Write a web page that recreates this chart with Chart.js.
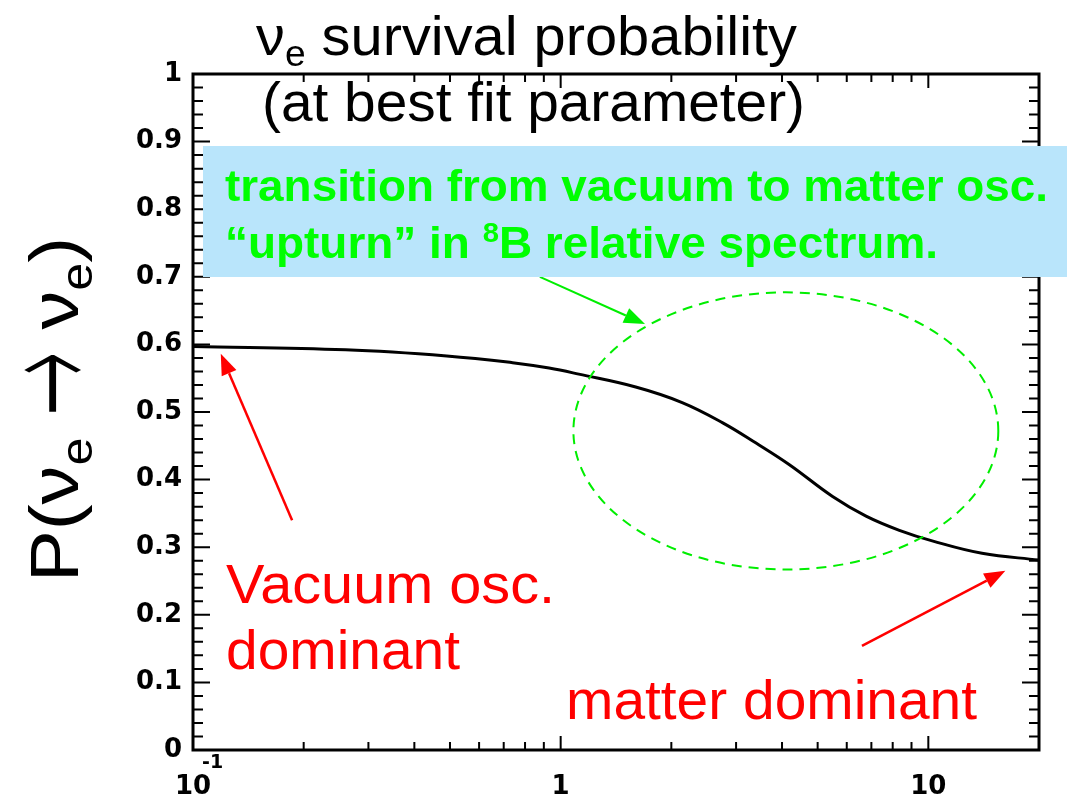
<!DOCTYPE html>
<html lang="en">
<head>
<meta charset="UTF-8">
<title>nu_e survival probability</title>
<style>
  body { margin: 0; background: #ffffff; }
  #wrap { width: 1067px; height: 794px; }
</style>
<script src="https://cdn.jsdelivr.net/npm/chart.js"></script>
</head>
<body>
<div id="wrap"><canvas id="probChart" width="1067" height="794"></canvas></div>
<script>
// neutrino energy (MeV) and survival probability along the best fit curve
const energy   = [0.1, 0.26, 0.49, 0.74, 0.93, 1.12, 1.6, 2.14, 2.76, 3.4, 4.19, 5.49, 6.77, 8.34, 10.3, 14, 20];
const survival = [0.597, 0.592, 0.583, 0.573, 0.565, 0.556, 0.537, 0.514, 0.484, 0.454, 0.422, 0.375, 0.346, 0.325, 0.309, 0.291, 0.281];

// axis ticks
const xLabelTicks = [0.1, 1, 10];
const xMinorTicks = [0.2, 0.3, 0.4, 0.5, 0.6, 0.7, 0.8, 0.9, 2, 3, 4, 5, 6, 7, 8, 9];
const yLabelTicks = [0, 0.1, 0.2, 0.3, 0.4, 0.5, 0.6, 0.7, 0.8, 0.9, 1];

const SANS = '"Liberation Sans", Arial, sans-serif';

// draw a row of text pieces, squeezed/stretched to a given width.
// a piece may carry its own width (w0) and vertical stretch (sy about cy)
function drawRuns(ctx, runs, x, y, width) {
  let total = 0;
  runs.forEach(r => {
    ctx.font = r.font;
    const m = ctx.measureText(r.text).width;
    r.sx = r.w0 ? r.w0 / m : 1;
    r.w = r.w0 || m;
    total += r.w;
  });
  ctx.save();
  ctx.translate(x, y);
  ctx.scale(width ? width / total : 1, 1);
  let cx = 0;
  runs.forEach(r => {
    ctx.font = r.font;
    if (r.sy) {
      ctx.save();
      ctx.translate(cx, r.cy);
      ctx.scale(r.sx, r.sy);
      ctx.fillText(r.text, 0, -r.gy);
      ctx.restore();
    } else {
      ctx.fillText(r.text, cx, r.dy || 0);
    }
    cx += r.w;
  });
  ctx.restore();
}

function drawArrow(ctx, x1, y1, x2, y2, color, lw) {
  const ang = Math.atan2(y2 - y1, x2 - x1);
  const head = 21, half = 8;
  const bx = x2 - head * Math.cos(ang), by = y2 - head * Math.sin(ang);
  ctx.strokeStyle = color;
  ctx.fillStyle = color;
  ctx.lineWidth = lw;
  ctx.beginPath();
  ctx.moveTo(x1, y1);
  ctx.lineTo(bx, by);
  ctx.stroke();
  ctx.beginPath();
  ctx.moveTo(x2, y2);
  ctx.lineTo(bx + half * Math.sin(ang), by - half * Math.cos(ang));
  ctx.lineTo(bx - half * Math.sin(ang), by + half * Math.cos(ang));
  ctx.closePath();
  ctx.fill();
}

const decor = {
  id: 'decor',
  afterDraw(chart) {
    const { ctx, chartArea: a, scales: { x, y } } = chart;
    ctx.save();

    // frame with inward ticks on all four sides
    ctx.strokeStyle = '#000';
    ctx.lineWidth = 2;
    ctx.beginPath();
    for (let i = 1; i < 50; i++) {
      const py = y.getPixelForValue(i / 50);
      const len = i % 5 === 0 ? 17 : 10;
      ctx.moveTo(a.left, py); ctx.lineTo(a.left + len, py);
      ctx.moveTo(a.right, py); ctx.lineTo(a.right - len, py);
    }
    xLabelTicks.concat(xMinorTicks).forEach(v => {
      const px = x.getPixelForValue(v);
      const len = xLabelTicks.includes(v) ? 14 : 8;
      ctx.moveTo(px, a.bottom); ctx.lineTo(px, a.bottom - len);
      ctx.moveTo(px, a.top); ctx.lineTo(px, a.top + len);
    });
    ctx.stroke();
    ctx.lineWidth = 3;
    ctx.strokeRect(a.left, a.top, a.right - a.left, a.bottom - a.top);

    // exponent of the 10^-1 label
    ctx.fillStyle = '#000';
    ctx.font = 'bold 19px "DejaVu Sans"';
    ctx.textBaseline = 'alphabetic';
    ctx.fillText('-1', x.getPixelForValue(0.1) + 9, 768);

    // dashed ellipse round the transition region
    const ex1 = x.getPixelForValue(1.083), ex2 = x.getPixelForValue(15.5);
    const ey1 = y.getPixelForValue(0.677), ey2 = y.getPixelForValue(0.267);
    ctx.strokeStyle = '#00ee00';
    ctx.lineWidth = 2;
    ctx.setLineDash([10, 7]);
    ctx.beginPath();
    ctx.ellipse((ex1 + ex2) / 2, (ey1 + ey2) / 2, (ex2 - ex1) / 2, (ey2 - ey1) / 2, 0, 0, Math.PI * 2);
    ctx.stroke();
    ctx.setLineDash([]);

    // arrows
    drawArrow(ctx, x.getPixelForValue(0.878), y.getPixelForValue(0.70),
              x.getPixelForValue(1.696), y.getPixelForValue(0.630), '#00ee00', 2);
    drawArrow(ctx, x.getPixelForValue(0.186), y.getPixelForValue(0.340),
              x.getPixelForValue(0.119), y.getPixelForValue(0.586), '#ff0000', 2.5);
    drawArrow(ctx, x.getPixelForValue(6.6), y.getPixelForValue(0.154),
              x.getPixelForValue(16.2), y.getPixelForValue(0.265), '#ff0000', 2.5);

    // annotation box
    ctx.fillStyle = '#b9e5fb';
    ctx.fillRect(203, 146, 864, 131);
    ctx.fillStyle = '#00ff00';
    drawRuns(ctx, [{ text: 'transition from vacuum to matter osc.', font: 'bold 44px ' + SANS }], 225, 201, 823);
    drawRuns(ctx, [
      { text: '\u201cupturn\u201d in ', font: 'bold 44px ' + SANS },
      { text: '8', font: 'bold 28px ' + SANS, dy: -16 },
      { text: 'B relative spectrum.', font: 'bold 44px ' + SANS }
    ], 225, 258, 713);

    // title
    ctx.fillStyle = '#000';
    drawRuns(ctx, [
      { text: '\u03bd', font: '56px ' + SANS },
      { text: 'e', font: '36px ' + SANS, dy: 11 },
      { text: ' survival probability', font: '56px ' + SANS }
    ], 256, 55, 541);
    drawRuns(ctx, [{ text: '(at best fit parameter)', font: '56px ' + SANS }], 262, 121, 543);

    // y axis title
    ctx.save();
    ctx.translate(78, 582);
    ctx.rotate(-Math.PI / 2);
    drawRuns(ctx, [
      { text: 'P(', font: '68px ' + SANS },
      { text: '\u03bd', font: '68px ' + SANS },
      { text: 'e', font: '44px ' + SANS, dy: 14 },
      { text: ' ', font: '68px ' + SANS },
      { text: '\u2192', font: '200 64px "DejaVu Sans"', w0: 57, sy: 2.2, cy: -25, gy: -20 },
      { text: ' ', font: '68px ' + SANS },
      { text: '\u03bd', font: '68px ' + SANS },
      { text: 'e', font: '44px ' + SANS, dy: 14 },
      { text: ')', font: '68px ' + SANS }
    ], 0, 0, 345);
    ctx.restore();

    // regime labels
    ctx.fillStyle = '#ff0000';
    drawRuns(ctx, [{ text: 'Vacuum osc.', font: '56px ' + SANS }], 226, 603, 329);
    drawRuns(ctx, [{ text: 'dominant', font: '56px ' + SANS }], 226, 669, 234);
    drawRuns(ctx, [{ text: 'matter dominant', font: '56px ' + SANS }], 566, 719, 411);

    ctx.restore();
  }
};

const tickFont = { family: '"DejaVu Sans"', weight: 'bold', size: 26 };

new Chart(document.getElementById('probChart'), {
  type: 'line',
  data: {
    datasets: [{
      data: energy.map((e, i) => ({ x: e, y: survival[i] })),
      borderColor: '#000',
      borderWidth: 3,
      pointRadius: 0,
      tension: 0.4,
      fill: false
    }]
  },
  options: {
    responsive: false,
    animation: false,
    layout: { padding: { top: 74, right: 28, left: 0, bottom: 0 } },
    plugins: { legend: { display: false }, title: { display: false }, tooltip: { enabled: false } },
    scales: {
      x: {
        type: 'logarithmic',
        min: 0.1,
        max: 20,
        grid: { display: false },
        border: { display: false },
        afterBuildTicks: s => { s.ticks = xLabelTicks.map(v => ({ value: v })); },
        afterFit: s => { s.height = 44; },
        ticks: {
          autoSkip: false,
          maxRotation: 0,
          padding: 14,
          color: '#000',
          font: tickFont,
          callback: v => (v === 0.1 ? '10' : String(v))
        }
      },
      y: {
        min: 0,
        max: 1,
        grid: { display: false, drawTicks: false },
        border: { display: false },
        afterBuildTicks: s => { s.ticks = yLabelTicks.map(v => ({ value: v })); },
        afterFit: s => { s.width = 193; },
        ticks: {
          padding: 11,
          color: '#000',
          font: tickFont,
          callback: v => (v === 0 || v === 1 ? String(v) : v.toFixed(1))
        }
      }
    }
  },
  plugins: [decor]
});
</script>
</body>
</html>
